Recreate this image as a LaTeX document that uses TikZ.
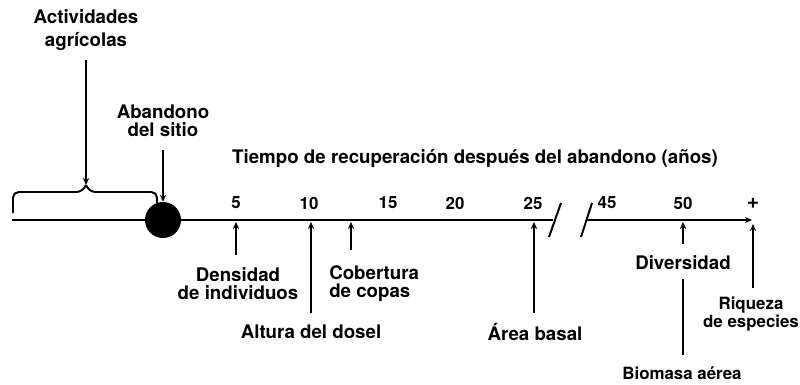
\documentclass[tikz,border=0pt]{standalone}
\usepackage{fontspec}
\setmainfont{TeX Gyre Heros}
\usetikzlibrary{arrows.meta}
\tikzstyle{texto} = [font=\bfseries\fontsize{13.3}{12.8}\selectfont, align=center, inner sep=0pt]
\tikzstyle{pequeno} = [font=\bfseries\fontsize{12}{12.3}\selectfont, align=center, inner sep=0pt]
\tikzstyle{numero} = [font=\bfseries\fontsize{12}{12}\selectfont, inner sep=0pt]
\tikzstyle{linea} = [line width=1.4pt]
\tikzstyle{flecha} = [line width=1.4pt, -{Stealth[length=5pt,width=4.5pt]}]

\begin{document}
\begin{tikzpicture}[x=0.025cm, y=-0.025cm]
    \useasboundingbox (0,0) rectangle (800,384);

    % Etiquetas superiores
    \node (activ) [texto, font=\bfseries\fontsize{13.3}{16.5}\selectfont] at (86,30) {Actividades\\agrícolas};
    \node (aband) [texto] at (163,121) {Abandono\\del sitio};
    \node (tiempo) [texto] at (475,158) {Tiempo de recuperación después del abandono (años)};

    % Eje del tiempo
    \coordinate (inicio) at (12,220);
    \coordinate (corte1) at (553,220);
    \coordinate (corte2) at (587,220);
    \coordinate (fin) at (752,220);
    \draw [linea] (inicio) -- (corte1);
    \draw [flecha] (corte2) -- (fin);
    \draw [linea] (549,237) -- (561,203);
    \draw [linea] (581,237) -- (592,203);
    \node (sitio) [circle, fill=black, minimum size=25.6pt, inner sep=0pt] at (163,220) {};

    % Llave de las actividades agricolas
    \coordinate (llave) at (86,185);
    \draw [linea, rounded corners=4pt] (13,213) -- (13,192) -- (82,192) -- (llave);
    \draw [linea, rounded corners=4pt] (llave) -- (90,192) -- (157,192) -- (157,203);

    % Numeros del eje
    \node (n5) [numero] at (236,203) {5};
    \node (n10) [numero] at (309,203) {10};
    \node (n15) [numero] at (388,203) {15};
    \node (n20) [numero] at (455,203) {20};
    \node (n25) [numero] at (533,203) {25};
    \node (n45) [numero] at (607,203) {45};
    \node (n50) [numero] at (683,203) {50};
    \node (nmas) [numero, font=\bfseries\fontsize{15}{15}\selectfont] at (753,203) {+};

    % Atributos de la vegetacion
    \node (densidad) [texto] at (238,284) {Densidad\\de individuos};
    \node (altura) [texto] at (311,332) {Altura del dosel};
    \node (cobertura) [texto, align=left, anchor=west] at (329,284) {Cobertura\\de copas};
    \node (area) [texto] at (535,332) {Área basal};
    \node (diversidad) [texto] at (683,263) {Diversidad};
    \node (riqueza) [pequeno] at (751,314) {Riqueza\\de especies};
    \node (biomasa) [pequeno] at (682,373) {Biomasa aérea};

    % Puntos de partida y llegada de las flechas
    \coordinate (c-activ) at (86,60);
    \coordinate (c-aband) at (163,150);
    \coordinate (c-dens) at (236,255);
    \coordinate (e-dens) at (236,222);
    \coordinate (c-alt) at (311,313);
    \coordinate (e-alt) at (311,222);
    \coordinate (c-cob) at (351,250);
    \coordinate (e-cob) at (351,222);
    \coordinate (c-area) at (534,313);
    \coordinate (e-area) at (534,222);
    \coordinate (e-div) at (683,222);
    \coordinate (c-riq) at (753,288);
    \coordinate (e-riq) at (753,224);

    % Flechas
    \draw [flecha] (c-activ) -- (llave);
    \draw [flecha] (c-aband) -- (sitio.north);
    \draw [flecha] (c-dens) -- (e-dens);
    \draw [flecha] (c-alt) -- (e-alt);
    \draw [flecha] (c-cob) -- (e-cob);
    \draw [flecha] (c-area) -- (e-area);
    \draw [linea, shorten <=8pt, shorten >=6pt] (biomasa.north -| e-div) -- (diversidad.south -| e-div);
    \draw [flecha, shorten <=8pt] (diversidad.north -| e-div) -- (e-div);
    \draw [flecha] (c-riq) -- (e-riq);
\end{tikzpicture}
\end{document}
